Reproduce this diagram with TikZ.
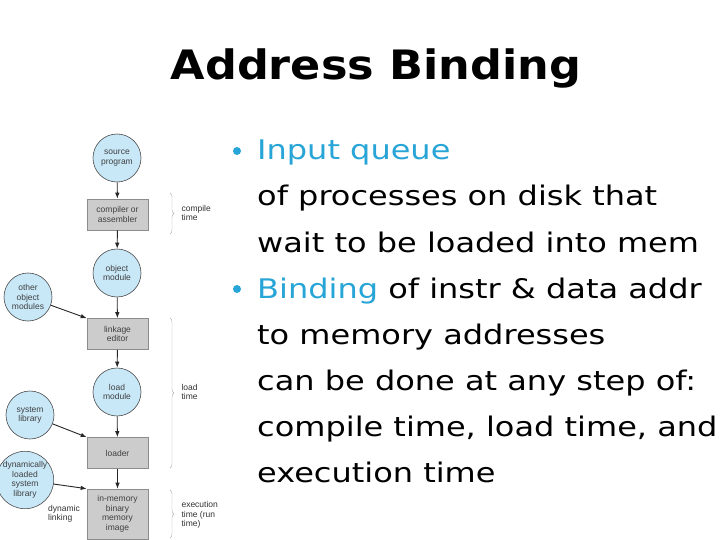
\documentclass[tikz,border=0pt]{standalone}
\usepackage{fontspec}
\setmainfont{DejaVu Sans}
\newfontfamily\bodyfont{DejaVu Sans}[FakeStretch=1.185]
\newfontfamily\titlefont{DejaVu Sans Bold}[FakeStretch=1.1]
\newfontfamily\diagfont{Liberation Sans}
\usetikzlibrary{arrows.meta,decorations.pathreplacing}
\definecolor{bulletblue}{RGB}{40,165,215}
\definecolor{circfill}{RGB}{200,232,248}
\definecolor{boxfill}{RGB}{204,204,204}
\begin{document}
\begin{tikzpicture}[x=1pt,y=-1pt,
  circ/.style={circle,draw=black!70,fill=circfill,line width=0.6pt,minimum size=48pt,inner sep=0pt,align=center,font=\diagfont\fontsize{8.5}{9.5}\selectfont,text=black!75},
  procbox/.style={rectangle,draw=black!45,fill=boxfill,line width=0.6pt,minimum width=61pt,minimum height=31pt,inner sep=0pt,align=center,font=\diagfont\fontsize{8.5}{9.5}\selectfont,text=black!75},
  flow/.style={-{Latex[length=6pt,width=4.5pt]},line width=0.9pt,black!85},
  tbrace/.style={decorate,decoration={brace,amplitude=4pt},draw=black!30,line width=0.4pt},
  tlabel/.style={anchor=west,align=left,font=\diagfont\fontsize{8.5}{9.5}\selectfont,text=black!80},
  bodytext/.style={anchor=base west,inner sep=0pt,font=\bodyfont\fontsize{27}{32}\selectfont},
  bul/.style={circle,fill=bulletblue,inner sep=0pt,minimum size=8pt}]
\useasboundingbox (0,0) rectangle (720,540);
\fill[white] (0,0) rectangle (720,540);

% title
\node[anchor=base,inner sep=0pt,font=\titlefont\fontsize{40.5}{48}\selectfont] (title) at (376,80) {Address Binding};

% body text
\node[bul] (b1) at (237,151) {};
\node[bodytext] (l1) at (257,160) {\textcolor{bulletblue}{Input queue}};
\node[bodytext] (l2) at (257,206) {of processes on disk that};
\node[bodytext] (l3) at (257,252) {wait to be loaded into mem};
\node[bul] (b2) at (237,289) {};
\node[bodytext] (l4) at (257,298) {\textcolor{bulletblue}{Binding} of instr \& data addr};
\node[bodytext] (l5) at (257,344) {to memory addresses};
\node[bodytext] (l6) at (257,390) {can be done at any step of:};
\node[bodytext] (l7) at (257,436) {compile time, load time, and};
\node[bodytext] (l8) at (257,482) {execution time};

% diagram
\node[circ] (src) at (117,158) {source\\program};
\node[procbox] (comp) at (117.5,214.5) {compiler or\\assembler};
\node[circ] (obj) at (117,273) {object\\module};
\node[circ] (other) at (28,297) {other\\object\\modules};
\node[procbox] (link) at (117.5,334) {linkage\\editor};
\node[circ] (load) at (117,392) {load\\module};
\node[circ] (sys) at (30,415) {system\\library};
\node[procbox] (loader) at (117.5,453) {loader};
\node[circ] (dyn) at (25,480) {dynamically\\loaded\\system\\library};
\node[procbox,minimum height=50pt] (mem) at (117.5,514) {in-memory\\binary\\memory\\image};
\node[align=left,font=\diagfont\fontsize{8.5}{9.5}\selectfont,text=black!80] (dl) at (64,514) {dynamic\\linking};

\draw[flow] (src) -- (comp);
\draw[flow] (comp) -- (obj);
\draw[flow] (obj) -- (link);
\draw[flow] (link) -- (load);
\draw[flow] (load) -- (loader);
\draw[flow] (loader) -- (mem);
\draw[flow] (other) -- (link.north west);
\draw[flow] (sys) -- (loader.north west);
\draw[flow] (dyn) -- (mem.north west);

% braces
\coordinate (c1) at (170,193);
\coordinate (c2) at (170,234);
\coordinate (d1) at (170,318);
\coordinate (d2) at (170,468);
\coordinate (e1) at (170,490);
\coordinate (e2) at (170,538);
\draw[tbrace] (c1) -- (c2);
\draw[tbrace] (d1) -- (d2);
\draw[tbrace] (e1) -- (e2);
\node[tlabel] (ct) at (178,213) {compile\\time};
\node[tlabel] (lt) at (178,392) {load\\time};
\node[tlabel] (et) at (178,515) {execution\\time (run\\time)};
\end{tikzpicture}
\end{document}
